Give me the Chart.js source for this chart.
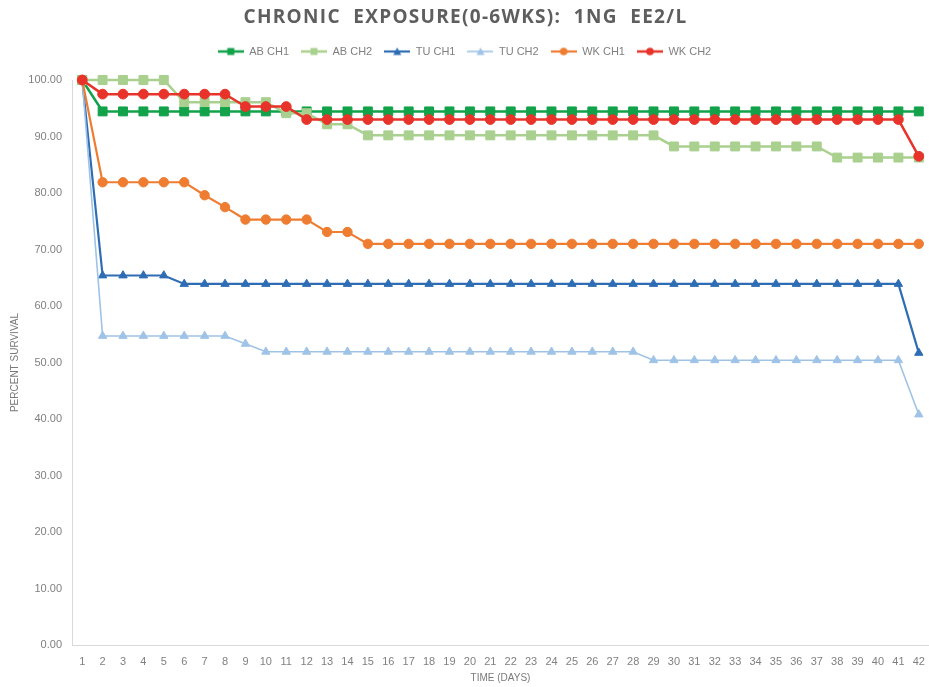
<!DOCTYPE html>
<html>
<head>
<meta charset="utf-8">
<script src="https://cdn.jsdelivr.net/npm/chart.js@4.4.1/dist/chart.umd.min.js"></script>
<style>
  html, body { margin: 0; padding: 0; background: #ffffff; }
  #wrap { width: 929px; height: 687px; position: relative; }
</style>
</head>
<body>
<div id="wrap"><canvas id="chart" width="929" height="687"></canvas></div>
<script>
// Survival (%) per day over six weeks of exposure, two channels per site
const days = ['1','2','3','4','5','6','7','8','9','10','11','12','13','14','15','16','17','18','19','20','21',
              '22','23','24','25','26','27','28','29','30','31','32','33','34','35','36','37','38','39','40','41','42'];

const abCh1 = [100, 94.44, 94.44, 94.44, 94.44, 94.44, 94.44, 94.44, 94.44, 94.44, 94.44, 94.44, 94.44, 94.44,
               94.44, 94.44, 94.44, 94.44, 94.44, 94.44, 94.44, 94.44, 94.44, 94.44, 94.44, 94.44, 94.44, 94.44,
               94.44, 94.44, 94.44, 94.44, 94.44, 94.44, 94.44, 94.44, 94.44, 94.44, 94.44, 94.44, 94.44, 94.44];

const abCh2 = [100, 100, 100, 100, 100, 96.08, 96.08, 96.08, 96.08, 96.08, 94.12, 94.12, 92.16, 92.16,
               90.2, 90.2, 90.2, 90.2, 90.2, 90.2, 90.2, 90.2, 90.2, 90.2, 90.2, 90.2, 90.2, 90.2,
               90.2, 88.24, 88.24, 88.24, 88.24, 88.24, 88.24, 88.24, 88.24, 86.27, 86.27, 86.27, 86.27, 86.27];

const tuCh1 = [100, 65.4, 65.4, 65.4, 65.4, 63.9, 63.9, 63.9, 63.9, 63.9, 63.9, 63.9, 63.9, 63.9,
               63.9, 63.9, 63.9, 63.9, 63.9, 63.9, 63.9, 63.9, 63.9, 63.9, 63.9, 63.9, 63.9, 63.9,
               63.9, 63.9, 63.9, 63.9, 63.9, 63.9, 63.9, 63.9, 63.9, 63.9, 63.9, 63.9, 63.9, 51.7];

const tuCh2 = [100, 54.7, 54.7, 54.7, 54.7, 54.7, 54.7, 54.7, 53.3, 51.9, 51.9, 51.9, 51.9, 51.9,
               51.9, 51.9, 51.9, 51.9, 51.9, 51.9, 51.9, 51.9, 51.9, 51.9, 51.9, 51.9, 51.9, 51.9,
               50.4, 50.4, 50.4, 50.4, 50.4, 50.4, 50.4, 50.4, 50.4, 50.4, 50.4, 50.4, 50.4, 40.8];

const wkCh1 = [100, 81.9, 81.9, 81.9, 81.9, 81.9, 79.6, 77.5, 75.3, 75.3, 75.3, 75.3, 73.1, 73.1,
               71.0, 71.0, 71.0, 71.0, 71.0, 71.0, 71.0, 71.0, 71.0, 71.0, 71.0, 71.0, 71.0, 71.0,
               71.0, 71.0, 71.0, 71.0, 71.0, 71.0, 71.0, 71.0, 71.0, 71.0, 71.0, 71.0, 71.0, 71.0];

const wkCh2 = [100, 97.5, 97.5, 97.5, 97.5, 97.5, 97.5, 97.5, 95.3, 95.3, 95.3, 93.0, 93.0, 93.0,
               93.0, 93.0, 93.0, 93.0, 93.0, 93.0, 93.0, 93.0, 93.0, 93.0, 93.0, 93.0, 93.0, 93.0,
               93.0, 93.0, 93.0, 93.0, 93.0, 93.0, 93.0, 93.0, 93.0, 93.0, 93.0, 93.0, 93.0, 86.5];

const seriesNames = ['AB CH1', 'AB CH2', 'TU CH1', 'TU CH2', 'WK CH1', 'WK CH2'];
const yTicks = [0, 10, 20, 30, 40, 50, 60, 70, 80, 90, 100];

const chartTitle = 'CHRONIC  EXPOSURE(0-6WKS):  1NG  EE2/L';
const xTitle = 'TIME (DAYS)';
const yTitle = 'PERCENT SURVIVAL';

const colors = ['#11a24a', '#a9d08e', '#2e6db4', '#9fc3e7', '#ee7d31', '#e8332a'];
const shapes = ['rect', 'rect', 'triangle', 'triangle', 'circle', 'circle'];
const radii = [6.3, 6.3, 4.8, 4.8, 4.7, 4.9];
const widths = [2.5, 2.5, 2.2, 1.6, 2.2, 2.5];
const values = [abCh1, abCh2, tuCh1, tuCh2, wkCh1, wkCh2];

// legend icons: a short line with the series marker in the middle
function makeIcon(color, shape, lw) {
  const c = document.createElement('canvas');
  c.width = 26; c.height = 12;
  const g = c.getContext('2d');
  g.strokeStyle = color; g.fillStyle = color; g.lineWidth = lw;
  g.beginPath(); g.moveTo(0, 6); g.lineTo(26, 6); g.stroke();
  g.beginPath();
  if (shape === 'rect') g.rect(9.5, 2.5, 7, 7);
  else if (shape === 'circle') g.arc(13, 6, 3.8, 0, Math.PI * 2);
  else { g.moveTo(13, 2); g.lineTo(17, 9.5); g.lineTo(9, 9.5); g.closePath(); }
  g.fill();
  return c;
}
const icons = colors.map((c, i) => makeIcon(c, shapes[i], widths[i]));

const datasets = values.map((v, i) => ({
  label: seriesNames[i],
  data: v,
  borderColor: colors[i],
  backgroundColor: colors[i],
  borderWidth: widths[i],
  pointStyle: shapes[i],
  pointRadius: radii[i],
  pointHoverRadius: radii[i],
  pointBorderWidth: 1,
  pointBorderColor: colors[i],
  pointBackgroundColor: colors[i],
  tension: 0,
  clip: false,
  order: values.length - i   // later series paint over earlier ones
}));

// title drawn with letter spacing
const spacedTitle = {
  id: 'spacedTitle',
  afterDraw(chart) {
    const ctx = chart.ctx;
    ctx.save();
    ctx.font = "bold 19px 'Open Sans', 'Liberation Sans', sans-serif";
    ctx.fillStyle = '#5e5e5e';
    ctx.textAlign = 'center';
    ctx.textBaseline = 'middle';
    if ('letterSpacing' in ctx) ctx.letterSpacing = '1.3px';
    ctx.fillText(chartTitle, chart.width / 2 + 1, 18);
    ctx.restore();
  }
};

// fixed legend block height so the plot starts at a set offset
const legendHeight = {
  id: 'legendHeight',
  beforeInit(chart) {
    const lg = chart.legend;
    if (!lg) return;
    const fit = lg.fit;
    lg.fit = function () { fit.call(this); this.height = 46; };
  }
};

Chart.defaults.font.family = "'Liberation Sans', Arial, sans-serif";
Chart.defaults.color = '#7f7f7f';

new Chart(document.getElementById('chart'), {
  type: 'line',
  data: { labels: days, datasets },
  options: {
    responsive: false,
    animation: false,
    layout: { autoPadding: false, padding: { top: 34, right: 0, bottom: 0, left: 0 } },
    plugins: {
      title: { display: false },
      tooltip: { enabled: false },
      legend: {
        position: 'top',
        labels: {
          usePointStyle: true,
          pointStyleWidth: 26,
          padding: 12,
          color: '#808080',
          font: { size: 11 },
          sort: (a, b) => a.datasetIndex - b.datasetIndex,
          generateLabels(chart) {
            const items = Chart.defaults.plugins.legend.labels.generateLabels(chart);
            items.forEach(it => { it.pointStyle = icons[it.datasetIndex]; });
            return items;
          }
        }
      }
    },
    scales: {
      x: {
        type: 'category',
        offset: true,
        grid: { display: false, drawTicks: false },
        border: { display: true, color: '#d9d9d9', width: 1 },
        ticks: { autoSkip: false, maxRotation: 0, padding: 10, font: { size: 11 }, color: '#808080' },
        title: { display: true, text: xTitle, font: { size: 10 }, color: '#7a7a7a', padding: { top: 0, bottom: 3 } },
        afterFit(s) { s.height = 42; s.paddingLeft = 0; s.paddingRight = 0; }
      },
      y: {
        min: 0, max: 100,
        afterBuildTicks(s) { s.ticks = yTicks.map(v => ({ value: v })); },
        grid: { display: false, drawTicks: false },
        border: { display: true, color: '#d9d9d9', width: 1 },
        ticks: { padding: 10, font: { size: 11 }, color: '#808080', callback: v => Number(v).toFixed(2) },
        title: { display: true, text: yTitle, font: { size: 10 }, color: '#7a7a7a', padding: { top: 9, bottom: 0 } },
        afterFit(s) { s.width = 72; }
      }
    }
  },
  plugins: [spacedTitle, legendHeight]
});
</script>
</body>
</html>
